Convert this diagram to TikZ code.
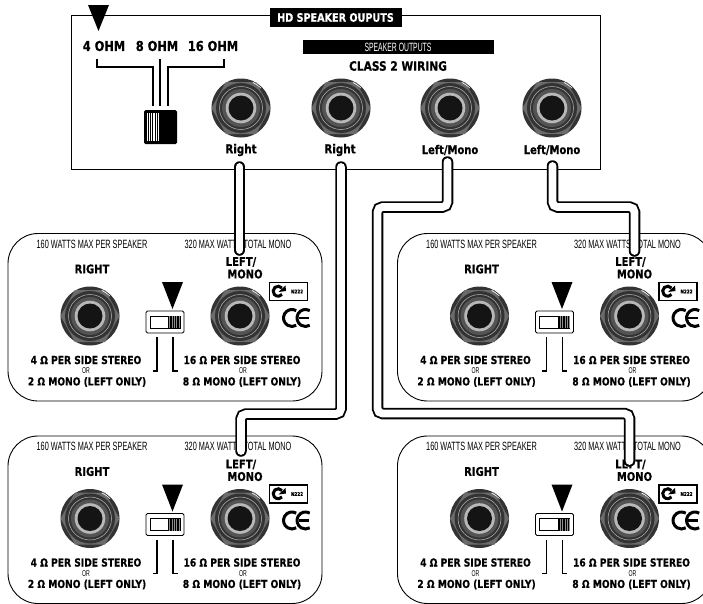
\documentclass[tikz,border=0pt]{standalone}
\usepackage{fontspec}
\setmainfont{Liberation Sans}
\newfontfamily\heavy[FakeStretch=0.83,FakeBold=0.6]{DejaVu Sans Bold}
\newfontfamily\thin[FakeStretch=0.61]{Liberation Sans}
\newfontfamily\thinb[FakeStretch=0.57]{Liberation Sans}
\usetikzlibrary{calc}
\tikzset{
  heavytext/.style={font=\heavy\fontsize{#1}{#1}\selectfont,inner sep=0pt,text=black},
  thintext/.style={font=\thin\fontsize{#1}{#1}\selectfont,inner sep=0pt,text=black},
  barlabel/.style={font=\thinb\fontsize{12}{12}\selectfont,inner sep=0pt,text=white},
  panelline/.style={draw=black,line width=0.9pt},
  leader/.style={draw=black,line width=1.5pt,line cap=butt,line join=miter},
  cableout/.style={draw=black,line width=11.5pt,line cap=round,rounded corners=5pt},
  cablein/.style={draw=white,line width=7.8pt,line cap=round,rounded corners=5pt},
}
\definecolor{jackdark}{gray}{0.2}
\definecolor{jackhex}{gray}{0.42}
\definecolor{jackmid}{gray}{0.33}
\definecolor{jackring}{gray}{0.72}
% jack socket
\newcommand{\jacksocket}[2]{%
  \begin{scope}[shift={(#1,#2)}]
    \fill[jackdark] (0,0) circle (29.5);
    \fill[jackhex] (-29.5,0) -- (-15,-26) -- (15,-26) -- (29.5,0) -- (15,26) -- (-15,26) -- cycle;
    \fill[jackdark] (0,0) circle (25);
    \draw[jackring,line width=0.5pt] (0,0) circle (21.5);
    \fill[jackmid] (0,0) circle (19);
    \fill[jackring] (0,0) circle (15.3);
    \fill[black!92] (0,0) circle (12.5);
    \draw[white,line width=0.6pt] (12,-25.5) arc (-65:-45:28);
  \end{scope}}
% hatching between x-values
\newcommand{\hatchbars}[5]{%
  \foreach \xx in {0,#5,...,#3}{\draw[black,line width=0.65pt] ({#1+\xx},#2) -- ++(0,#4);}}
% amplifier panel
\newcommand{\ampunit}[4]{% prefix, dx, dy, right edge
  \begin{scope}[shift={(#2,#3)}]
    \draw[panelline,fill=white,rounded corners=30pt] (8,233.5) rectangle (#4,401);
    \node[thintext=12] (#1w) at (92,244) {160 WATTS MAX PER SPEAKER};
    \node[thintext=12] (#1t) at (238,244) {320 MAX WATTS TOTAL MONO};
    \node[heavytext=12] (#1r) at (92,269) {RIGHT};
    \node[heavytext=12] (#1l) at (241,262) {LEFT/};
    \node[heavytext=12] (#1m) at (245,274) {MONO};
    \jacksocket{90}{316}
    \jacksocket{240}{316}
    \fill[black] (162,282) -- (183,282) -- (172.5,309) -- cycle;
    \draw[black,line width=0.8pt,rounded corners=1.5pt] (146,311) rectangle (184,333);
    \draw[black,line width=1pt] (150,316) rectangle (180,328);
    \fill[black!45] (168,316) rectangle (180,328);
    \hatchbars{168.4}{316}{11}{12}{1.7}
    \draw[leader] (157,337) -- (157,371) -- (152.5,371);
    \draw[leader] (173,337) -- (173,371) -- (177.5,371);
    \node[heavytext=11] (#1a) at (86,360) {4 Ω PER SIDE STEREO};
    \node[thintext=8.5] (#1o) at (86,371) {OR};
    \node[heavytext=11] (#1b) at (87,382) {2 Ω MONO (LEFT ONLY)};
    \node[heavytext=11] (#1c) at (242,360) {16 Ω PER SIDE STEREO};
    \node[thintext=8.5] (#1p) at (243,371) {OR};
    \node[heavytext=11] (#1d) at (242,382) {8 Ω MONO (LEFT ONLY)};
    % approval mark
    \draw[black,line width=1.2pt] (269.5,282.5) rectangle (307.5,300.5);
    \draw[black,line width=3pt] (282,288) arc (-40:-320:5);
    \fill[black] (278.5,292) -- (285.5,285.5) -- (286,291) -- cycle;
    \node[heavytext=5] (#1n) at (297,291.5) {N222};
    % CE mark
    \draw[black,line width=3pt] (296.25,310.6) arc (-60:-300:8.5);
    \draw[black,line width=3pt] (309.75,310.6) arc (-60:-300:8.5);
    \draw[black,line width=2.2pt] (298.5,318) -- (308.5,318);
  \end{scope}}
\begin{document}
\begin{tikzpicture}[x=1pt,y=-1pt]
\useasboundingbox (0,0) rectangle (703,603);
\fill[white] (0,0) rectangle (703,603);
% top panel
\draw[panelline] (71,15) rectangle (600.5,169);
\fill[black] (88,5) -- (109,5) -- (98.5,31) -- cycle;
\fill[black] (270,8) rectangle (402,27);
\node[heavytext=11.6,text=white] (title) at (335.5,17.5) {HD SPEAKER OUPUTS};
\node[heavytext=13.7] (o4) at (104,46) {4 OHM};
\node[heavytext=13.7] (o8) at (157,46) {8 OHM};
\node[heavytext=13.7] (o16) at (213,46) {16 OHM};
\draw[leader] (97,59) -- (97,67) -- (153,67) -- (153,106);
\draw[leader] (160,59) -- (160,106);
\draw[leader] (224,59) -- (224,67) -- (168,67) -- (168,106);
\fill[black,rounded corners=1.5pt] (144,110) rectangle (177,144);
\fill[white] (146,113) rectangle (160,141);
\hatchbars{146.5}{113}{13}{28}{2.1}
\fill[black] (303,40) rectangle (494,54);
\node[barlabel] (so) at (398,47.5) {SPEAKER OUTPUTS};
\node[heavytext=12.8] (cw) at (398,66) {CLASS 2 WIRING};
\jacksocket{241}{108}
\jacksocket{341}{108}
\jacksocket{450}{108}
\jacksocket{552}{108}
\node[heavytext=12.5] (r1) at (241,150) {Right};
\node[heavytext=12.5] (r2) at (340,150) {Right};
\node[heavytext=12] (l1) at (450,150) {Left/Mono};
\node[heavytext=12] (l2) at (552,150) {Left/Mono};
% amp panels
\ampunit{A}{0}{0}{322}
\ampunit{B}{389.5}{0}{322}
\ampunit{C}{0}{202.5}{322}
\ampunit{D}{389.5}{202.5}{322}
% cable ends
\coordinate (c1a) at (239.5,167);
\coordinate (c1b) at (239.5,250);
\coordinate (c2a) at (341,167);
\coordinate (c2b) at (241,451);
\coordinate (c3a) at (447.5,162);
\coordinate (c3b) at (629.5,461);
\coordinate (c4a) at (552.5,166);
\coordinate (c4b) at (634.5,251);
\newcommand{\cablepath}[1]{%
  \draw[cableout] #1;
  \draw[cablein] #1;}
\cablepath{(c1a) -- (c1b)}
\cablepath{(c2a) -- (c2a |- 0,414) -- (c2b |- 0,414) -- (c2b)}
\cablepath{(c3a) -- (c3a |- 0,207) -- (377.5,207) -- (377.5,413.5) -- (c3b |- 0,413.5) -- (c3b)}
\cablepath{(c4a) -- (c4a |- 0,207) -- (c4b |- 0,207) -- (c4b)}
\end{tikzpicture}
\end{document}
